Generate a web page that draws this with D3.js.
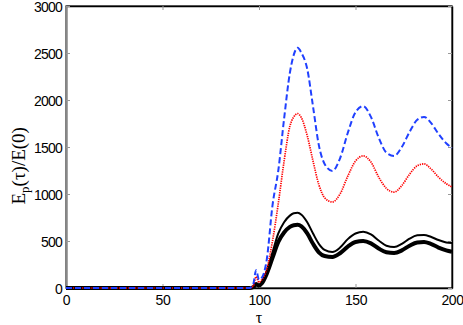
<!DOCTYPE html>
<html>
<head>
<meta charset="utf-8">
<script src="https://cdn.jsdelivr.net/npm/d3@7"></script>
<style>
  body { margin: 0; background: #fff; }
  svg { display: block; }
</style>
</head>
<body>
<svg id="chart"></svg>
<script>
// time samples (tau) shared by all curves
var tau = [0, 95, 97, 98.5, 100, 101.5, 104, 107, 110, 113, 116, 118, 120, 122, 125, 128, 131, 134, 138,
           142, 146, 150, 154, 158, 162, 166, 170, 174, 178, 182, 185.5, 189, 193, 197, 200];

var blueDashed = [0, 0, 40, 190, 90, 110, 300, 880, 1250, 1800, 2290, 2480, 2555, 2500, 2330, 1930, 1520, 1320, 1245,
                  1380, 1650, 1870, 1935, 1820, 1600, 1440, 1405, 1500, 1660, 1790, 1820, 1760, 1640, 1540, 1490];

var redDotted = [0, 0, 20, 120, 60, 90, 200, 500, 900, 1350, 1720, 1820, 1855, 1810, 1620, 1350, 1100, 960, 915,
                 1000, 1190, 1350, 1405, 1340, 1180, 1060, 1020, 1090, 1210, 1300, 1320, 1270, 1180, 1110, 1075];

var blackThin = [0, 0, 10, 50, 30, 60, 180, 380, 580, 700, 770, 795, 800, 780, 700, 580, 470, 405, 383,
                 430, 520, 580, 598, 570, 505, 450, 436, 470, 525, 560, 565, 545, 510, 485, 478];

var blackThick = [0, 0, 8, 40, 25, 50, 150, 320, 490, 590, 650, 668, 672, 655, 580, 470, 380, 340, 330,
                  370, 440, 490, 500, 475, 420, 380, 372, 400, 450, 485, 490, 470, 430, 400, 385];

var xTicks = [0, 50, 100, 150, 200];
var yTicks = [0, 500, 1000, 1500, 2000, 2500, 3000];

var width = 463, height = 325;
var margin = {top: 6, right: 11, bottom: 37, left: 66};
var w = width - margin.left - margin.right;
var h = height - margin.top - margin.bottom;

var svg = d3.select("#chart").attr("width", width).attr("height", height);

var xScale = d3.scaleLinear().domain([0, 200]).range([margin.left, margin.left + w]);
var yScale = d3.scaleLinear().domain([0, 3000]).range([margin.top + h, margin.top]);

var line = function (vals) {
    return d3.line()
        .x(function (d, i) { return xScale(tau[i]); })
        .y(function (d) { return yScale(d); })
        .curve(d3.curveMonotoneX)(vals);
};

var fmt = d3.format("d");

// box
svg.append("rect")
    .attr("x", margin.left).attr("y", margin.top)
    .attr("width", w).attr("height", h)
    .attr("fill", "none").attr("stroke", "#111").attr("stroke-width", 1.2);

// inward ticks, all four sides
svg.append("g")
    .attr("transform", "translate(0," + (margin.top + h) + ")")
    .call(d3.axisBottom(xScale).tickValues(xTicks).tickFormat(fmt).tickSizeInner(-4).tickSizeOuter(0).tickPadding(7))
    .call(function (g) {
        g.select(".domain").attr("stroke", "#000").attr("stroke-width", 1.5);
        g.selectAll(".tick line").attr("stroke", "#999");
        g.selectAll("text").style("font-family", "Liberation Sans, Arial, sans-serif").style("font-size", "14px")
            .style("letter-spacing", "-0.4px").attr("fill", "#000");
    });

svg.append("g")
    .attr("transform", "translate(0," + margin.top + ")")
    .call(d3.axisTop(xScale).tickValues(xTicks).tickSizeInner(-4).tickSizeOuter(0).tickFormat(""))
    .call(function (g) {
        g.select(".domain").attr("stroke", "#000").attr("stroke-width", 1.5);
        g.selectAll(".tick line").attr("stroke", "#999");
    });

svg.append("g")
    .attr("transform", "translate(" + margin.left + ",0)")
    .call(d3.axisLeft(yScale).tickValues(yTicks).tickFormat(fmt).tickSizeInner(-4).tickSizeOuter(0).tickPadding(4))
    .call(function (g) {
        g.select(".domain").attr("stroke", "#888").attr("stroke-width", 2.5);
        g.selectAll(".tick line").attr("stroke", "#999");
        g.selectAll("text").style("font-family", "Liberation Sans, Arial, sans-serif").style("font-size", "14px")
            .style("letter-spacing", "-0.8px").attr("dy", "0.42em").attr("fill", "#000");
    });

svg.append("g")
    .attr("transform", "translate(" + (margin.left + w) + ",0)")
    .call(d3.axisRight(yScale).tickValues(yTicks).tickSizeInner(-4).tickSizeOuter(0).tickFormat(""))
    .call(function (g) {
        g.select(".domain").attr("stroke", "#000").attr("stroke-width", 1.5);
        g.selectAll(".tick line").attr("stroke", "#999");
    });

// curves
svg.append("path").attr("d", line(blackThick))
    .attr("fill", "none").attr("stroke", "#000").attr("stroke-width", 4);
svg.append("path").attr("d", line(blackThin))
    .attr("fill", "none").attr("stroke", "#000").attr("stroke-width", 2);
svg.append("path").attr("d", line(redDotted))
    .attr("fill", "none").attr("stroke", "#f00").attr("stroke-width", 1.7).attr("stroke-dasharray", "1.3,1");
svg.append("path").attr("d", line(blueDashed))
    .attr("fill", "none").attr("stroke", "#2040ff").attr("stroke-width", 2).attr("stroke-dasharray", "6,3");

// axis labels
svg.append("text")
    .attr("x", xScale(100)).attr("y", 323)
    .attr("text-anchor", "middle")
    .style("font-family", "Liberation Serif, Times New Roman, serif").style("font-size", "16px")
    .text("τ");

var yl = svg.append("text")
    .attr("transform", "translate(25," + yScale(1300) + ")rotate(-90)")
    .attr("text-anchor", "middle")
    .style("font-family", "Liberation Serif, Times New Roman, serif").style("font-size", "19px");
yl.append("tspan").text("E");
yl.append("tspan").attr("dy", 4).style("font-size", "13px").text("p");
yl.append("tspan").attr("dy", -4).text("(τ)/E(0)");
</script>
</body>
</html>
